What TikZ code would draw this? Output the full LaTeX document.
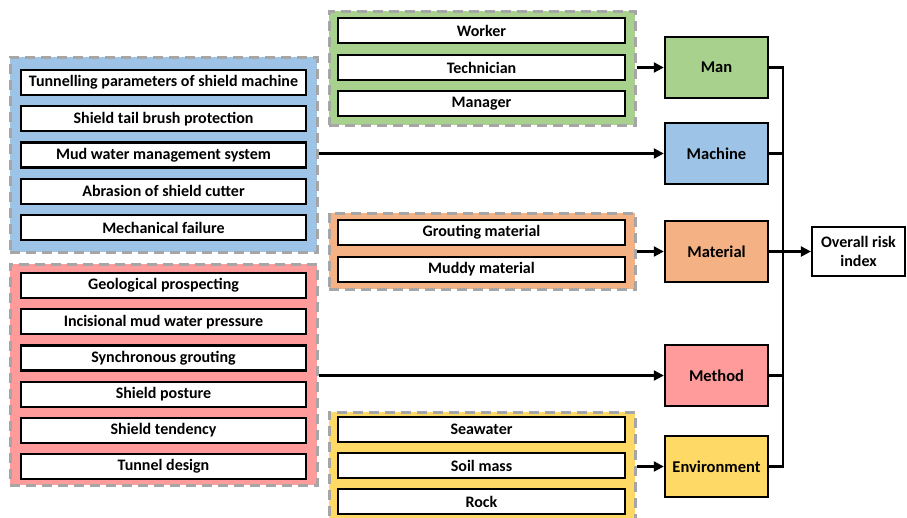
\documentclass[tikz,border=0pt]{standalone}
\usepackage{fontspec}
\setmainfont{Carlito}
\usetikzlibrary{arrows.meta}
\definecolor{blueF}{HTML}{9DC3E6}
\definecolor{greenF}{HTML}{A9D18E}
\definecolor{orangeF}{HTML}{F4B183}
\definecolor{pinkF}{HTML}{FF9B9B}
\definecolor{yellowF}{HTML}{FFD966}
\definecolor{dashG}{HTML}{A6A6A6}
\tikzset{
  grp/.style={draw=dashG, line width=3pt, dash pattern=on 10pt off 6pt,
    inner sep=0pt, minimum width=306pt},
  item/.style={draw=black, fill=white, line width=2.2pt, inner sep=0pt,
    minimum height=25pt, font=\fontsize{16}{18}\selectfont\bfseries},
  cat/.style={draw=black, line width=2.4pt, inner sep=0pt,
    minimum width=103pt, minimum height=61pt,
    font=\fontsize{16.5}{18}\selectfont\bfseries},
  link/.style={line width=2.2pt, -{Triangle[length=10pt,width=10pt]}},
  wire/.style={line width=2.2pt}
}
\begin{document}
\begin{tikzpicture}[x=1pt,y=-1pt]
\useasboundingbox (0,0) rectangle (907,517);
\clip (0,0) rectangle (907,517);

% factor groups
\node[grp, fill=blueF, minimum width=307pt, minimum height=195pt] (gMachine) at (163.5,154.5) {};
\node[grp, fill=pinkF, minimum width=307pt, minimum height=221pt] (gMethod) at (163.5,374.5) {};
\node[grp, fill=greenF, minimum height=114pt] (gMan) at (482,68) {};
\node[grp, fill=orangeF, minimum height=76pt] (gMaterial) at (482,251) {};
\node[grp, fill=yellowF, minimum height=110pt] (gEnv) at (482,467) {};

% machine factors
\begin{scope}[every node/.style={item, minimum width=285pt}]
\node (m1) at (163.5,82.5) {Tunnelling parameters of shield machine};
\node (m2) at (163.5,118.75) {Shield tail brush protection};
\node (m3) at (163.5,155) {Mud water management system};
\node (m4) at (163.5,191.25) {Abrasion of shield cutter};
\node (m5) at (163.5,227.5) {Mechanical failure};
% method factors
\node (d1) at (163.5,285.5) {Geological prospecting};
\node (d2) at (163.5,321.7) {Incisional mud water pressure};
\node (d3) at (163.5,357.9) {Synchronous grouting};
\node (d4) at (163.5,394.1) {Shield posture};
\node (d5) at (163.5,430.3) {Shield tendency};
\node (d6) at (163.5,466.5) {Tunnel design};
\end{scope}

\begin{scope}[every node/.style={item, minimum width=287pt}]
% man factors
\node (h1) at (481.5,30.5) {Worker};
\node (h2) at (481.5,67.5) {Technician};
\node (h3) at (481.5,103.5) {Manager};
% material factors
\node (t1) at (481.5,232.5) {Grouting material};
\node (t2) at (481.5,269.5) {Muddy material};
% environment factors
\node (e1) at (481.5,429.5) {Seawater};
\node (e2) at (481.5,465.5) {Soil mass};
\node (e3) at (481.5,501.5) {Rock};
\end{scope}

% risk categories
\node[cat, fill=greenF] (man) at (716.5,67.5) {Man};
\node[cat, fill=blueF] (machine) at (716.5,153.5) {Machine};
\node[cat, fill=orangeF] (material) at (716.5,251.5) {Material};
\node[cat, fill=pinkF] (method) at (716.5,375.5) {Method};
\node[cat, fill=yellowF] (env) at (716.5,466.5) {Environment};

\node[draw=black, fill=white, line width=2.2pt, inner sep=0pt,
  minimum width=93pt, minimum height=49pt, align=center,
  font=\fontsize{16}{19}\selectfont\bfseries] (risk) at (858.5,251.5) {Overall risk\\index};

% group to category
\draw[link] (gMan.east |- man) -- (man.west);
\draw[link] (gMachine.east |- machine) -- (machine.west);
\draw[link] (gMaterial.east |- material) -- (material.west);
\draw[link] (gMethod.east |- method) -- (method.west);
\draw[link] (gEnv.east |- env) -- (env.west);

% categories to the overall index
\coordinate (busTop) at (783,67.5);
\coordinate (busBot) at (783,466.5);
\draw[wire] (man.east) -- (busTop);
\draw[wire] (env.east) -- (busBot);
\draw[wire] (machine.east) -- (busTop |- machine);
\draw[wire] (method.east) -- (busTop |- method);
\draw[wire] ([yshift=1.1pt]busTop) -- ([yshift=-1.1pt]busBot);
\draw[link] (material.east) -- (risk.west);
\end{tikzpicture}
\end{document}
